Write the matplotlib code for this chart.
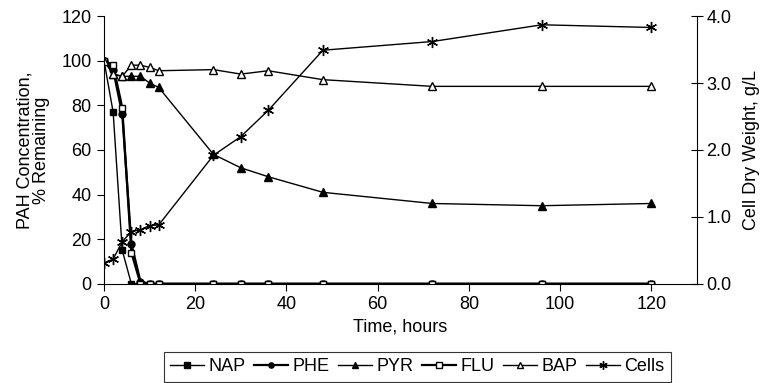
import matplotlib
matplotlib.use('Agg')
import matplotlib.pyplot as plt
import numpy as np

plt.rcParams['font.family'] = ['Liberation Sans', 'DejaVu Sans']

# sampling times, hours
hours = [0, 2, 4, 6, 8, 10, 12, 24, 30, 36, 48, 72, 96, 120]

# PAH concentration, % remaining
nap = [100, 77, 15, 0, 0, 0, 0, 0, 0, 0, 0, 0, 0, 0]
phe = [100, 96, 76, 18, 1, 0, 0, 0, 0, 0, 0, 0, 0, 0]
pyr = [100, 94, 93, 93, 93, 90, 88, 58, 52, 48, 41, 36, 35, 36]
flu = [100, 98, 79, 14, 0, 0, 0, 0, 0, 0, 0, 0, 0, 0]
bap = [100, 94, 93, 98, 98, 97, 95.5, 96, 94, 95.5, 91.5, 88.5, 88.5, 88.5]

# cell dry weight, g/L
cells = [0.31, 0.37, 0.63, 0.78, 0.81, 0.87, 0.88, 1.92, 2.2, 2.59, 3.49, 3.62, 3.87, 3.83]

fs = 13
fig = plt.figure(figsize=(7.67, 3.83), dpi=100)
ax = fig.add_axes([0.1356, 0.259, 0.773, 0.699])
ax2 = ax.twinx()

lw = 1.0
l1, = ax.plot(hours, nap, '-', color='black', lw=lw, marker='s', ms=5,
              mfc='black', mec='black', label='NAP')
l2, = ax.plot(hours, phe, '-', color='black', lw=1.6, marker='o', ms=5,
              mfc='black', mec='black', label='PHE')
l3, = ax.plot(hours, pyr, '-', color='black', lw=lw, marker='^', ms=6,
              mfc='black', mec='black', label='PYR')
l4, = ax.plot(hours, flu, '-', color='black', lw=1.6, marker='s', ms=5,
              mfc='white', mec='black', mew=1.0, label='FLU')
l5, = ax.plot(hours, bap, '-', color='black', lw=lw, marker='^', ms=6,
              mfc='white', mec='black', mew=1.0, label='BAP')
l6, = ax2.plot(hours, cells, '-', color='black', lw=lw, marker=(6, 2, 0), ms=8,
               mec='black', mew=1.0, label='Cells')

ax.set_xlim(0, 130)
ax.set_ylim(0, 120)
ax2.set_ylim(0, 4.0)
ax.set_xticks(np.arange(0, 121, 20))
ax.set_yticks(np.arange(0, 121, 20))
ax2.set_yticks(np.arange(0, 4.01, 1.0))
ax2.set_yticklabels(['%.1f' % v for v in np.arange(0, 4.01, 1.0)])

for a in (ax, ax2):
    a.spines['top'].set_visible(False)
    for s in a.spines.values():
        s.set_linewidth(0.8)
ax.spines['right'].set_visible(False)
ax2.spines['left'].set_visible(False)
ax2.spines['bottom'].set_visible(False)

ax.tick_params(axis='both', direction='out', length=5, width=0.8,
               labelsize=fs, pad=4)
ax2.tick_params(axis='y', direction='inout', length=8, width=0.8,
                labelsize=fs, pad=3)

ax.set_xlabel('Time, hours', fontsize=fs, labelpad=4)
ax.set_ylabel('PAH Concentration,\n% Remaining', fontsize=fs, labelpad=8,
              linespacing=1.0)
ax2.set_ylabel('Cell Dry Weight, g/L', fontsize=fs, labelpad=8)

leg = fig.legend(handles=[l1, l2, l3, l4, l5, l6], loc='center',
                 bbox_to_anchor=(0.544, 0.042), ncol=6, fontsize=fs,
                 frameon=True, fancybox=False, handlelength=1.85,
                 handletextpad=0.25, columnspacing=0.5, borderpad=0.35,
                 borderaxespad=0, markerscale=0.75)
leg.get_frame().set_edgecolor('black')
leg.get_frame().set_linewidth(0.8)

fig.savefig('out.png', dpi=100)
